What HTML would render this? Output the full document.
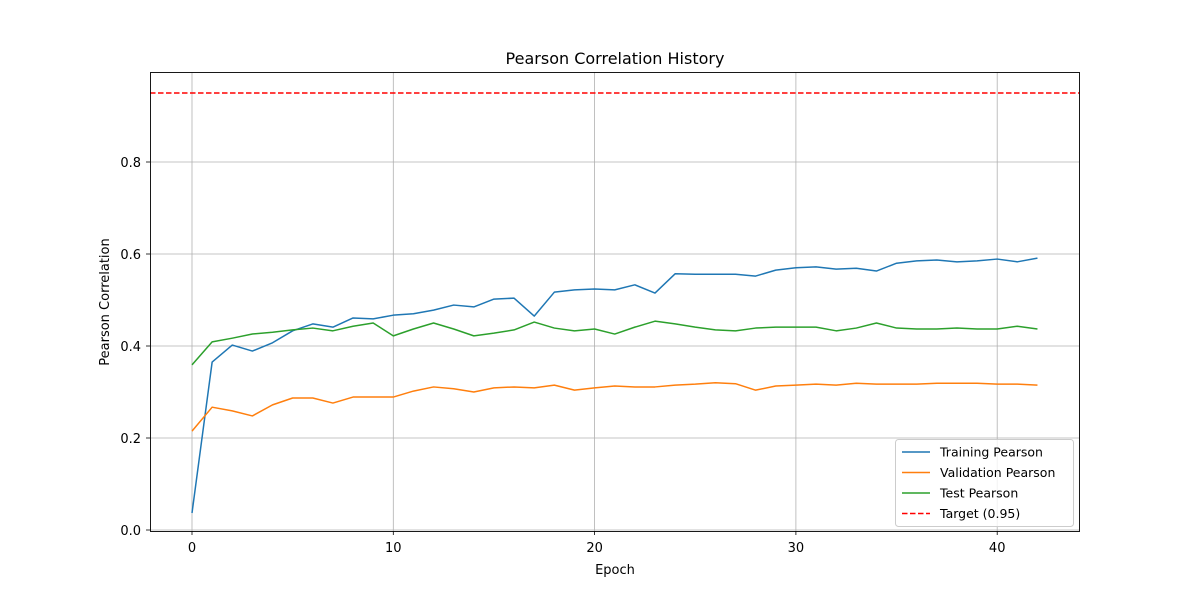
<!DOCTYPE html>
<html><head><meta charset="utf-8">
<style>
html,body{margin:0;padding:0;background:#fff;}
svg{display:block;font-family:"DejaVu Sans","Liberation Sans",sans-serif;}
</style></head>
<body>
<svg id="chart" width="1200" height="600" viewBox="0 0 1200 600" xmlns="http://www.w3.org/2000/svg">
<rect width="1200" height="600" fill="#fff"/>
<text x="615" y="64" font-size="16" text-anchor="middle" fill="#000">Pearson Correlation History</text>
<g id="grid"></g>
<g id="series"></g>
<rect x="150.5" y="72.5" width="929" height="459" fill="none" stroke="#000" stroke-width="0.9"/>
<g id="ticks"></g>
<text x="615" y="574" font-size="13" text-anchor="middle">Epoch</text>
<text transform="translate(109,302) rotate(-90)" font-size="13" text-anchor="middle">Pearson Correlation</text>
<g id="legend"></g>
</svg>
<script>
const training = [0.037,0.365,0.402,0.389,0.407,0.433,0.448,0.441,0.461,0.459,0.467,0.470,0.478,0.489,0.485,0.502,0.504,0.465,0.517,0.522,0.524,0.522,0.533,0.515,0.557,0.556,0.556,0.556,0.552,0.565,0.570,0.572,0.567,0.569,0.563,0.580,0.585,0.587,0.583,0.585,0.589,0.583,0.591];
const validation = [0.215,0.267,0.259,0.248,0.272,0.287,0.287,0.276,0.289,0.289,0.289,0.302,0.311,0.307,0.300,0.309,0.311,0.309,0.315,0.304,0.309,0.313,0.311,0.311,0.315,0.317,0.320,0.318,0.304,0.313,0.315,0.317,0.315,0.319,0.317,0.317,0.317,0.319,0.319,0.319,0.317,0.317,0.315];
const testSeries = [0.359,0.409,0.417,0.426,0.430,0.435,0.439,0.433,0.443,0.450,0.422,0.437,0.450,0.437,0.422,0.428,0.435,0.452,0.439,0.433,0.437,0.426,0.441,0.454,0.448,0.441,0.435,0.433,0.439,0.441,0.441,0.441,0.433,0.439,0.450,0.439,0.437,0.437,0.439,0.437,0.437,0.443,0.437];
const target = 0.95;
const xTicks = [0,10,20,30,40];
const yTicks = [0.0,0.2,0.4,0.6,0.8];
const seriesNames = ["Training Pearson","Validation Pearson","Test Pearson","Target (0.95)"];

const NS="http://www.w3.org/2000/svg";
const xs = e => 192 + e*20.13;
const ys = v => 530 - v*460;
function mk(tag, attrs, parent){const el=document.createElementNS(NS,tag);for(const k in attrs)el.setAttribute(k,attrs[k]);parent.appendChild(el);return el;}
const grid=document.getElementById('grid'), ticks=document.getElementById('ticks'), ser=document.getElementById('series'), leg=document.getElementById('legend');

xTicks.forEach(t=>{
  const x=xs(t);
  const g=mk('line',{x1:x,x2:x,y1:72,y2:531,stroke:'#b0b0b0','stroke-width':0.8},grid);
  
  
  mk('line',{x1:x,x2:x,y1:531,y2:535,stroke:'#000','stroke-width':0.8},ticks);
  const tx=mk('text',{x:x,y:552,'font-size':13,'text-anchor':'middle'},ticks);
  tx.textContent=t;
  
  
});
yTicks.forEach(t=>{
  const y=ys(t);
  const g=mk('line',{x1:150,x2:1079,y1:y,y2:y,stroke:'#b0b0b0','stroke-width':0.8},grid);
  
  
  mk('line',{x1:146,x2:150,y1:y,y2:y,stroke:'#000','stroke-width':0.8},ticks);
  const tx=mk('text',{x:141,y:y+5,'font-size':13,'text-anchor':'end'},ticks);
  tx.textContent=t.toFixed(1);
  
  
});

const tl=mk('line',{x1:150,x2:1079,y1:ys(target),y2:ys(target),stroke:'#ff0000','stroke-width':1.5,'stroke-dasharray':'5.5,2.5'},ser);



const colors=['#1f77b4','#ff7f0e','#2ca02c'];
const names=['training-line','validation-line','test-line'];
[training,validation,testSeries].forEach((arr,i)=>{
  const p=mk('polyline',{points:arr.map((v,e)=>xs(e)+','+ys(v)).join(' '),fill:'none',stroke:colors[i],'stroke-width':1.5,'stroke-linejoin':'round'},ser);
  
  
});

mk('rect',{x:895.5,y:439.5,width:178,height:87,rx:3,fill:'#fff','fill-opacity':0.8,stroke:'#cccccc','stroke-width':1},leg);
const lcolors=['#1f77b4','#ff7f0e','#2ca02c','#ff0000'];
seriesNames.forEach((n,i)=>{
  const y=452+i*20.5;
  const l=mk('line',{x1:902,x2:930,y1:y,y2:y,stroke:lcolors[i],'stroke-width':1.5},leg);
  if(i===3) l.setAttribute('stroke-dasharray','5.5,2.5');
  
  
  const t=mk('text',{x:940,y:y+4.5,'font-size':12.5},leg);
  t.textContent=n;
  
  
});
</script>
</body></html>
